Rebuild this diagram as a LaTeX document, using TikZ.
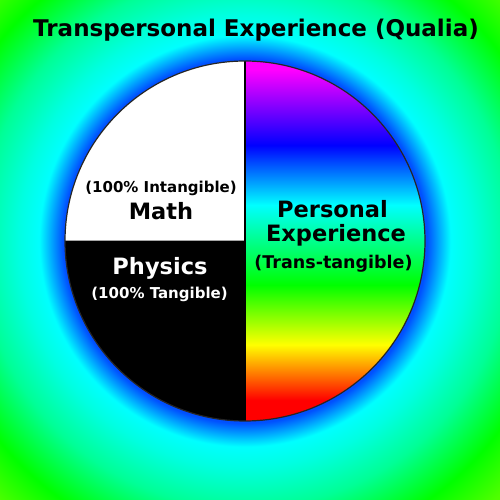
\documentclass[tikz,border=0pt]{standalone}
\usepackage{fontspec}
\setmainfont{DejaVu Sans}
\definecolor{bgblue}{RGB}{0,80,255}
\definecolor{bgcy}{RGB}{0,255,225}
\definecolor{bgmid}{RGB}{0,255,150}
\definecolor{bgchart}{RGB}{80,255,0}
\definecolor{bgfar}{RGB}{128,255,0}
\pgfdeclareradialshading{halo}{\pgfpoint{0bp}{0bp}}{%
  color(0bp)=(bgblue);
  color(12.3bp)=(bgblue);
  color(13.9bp)=(cyan);
  color(15.3bp)=(bgcy);
  color(18.0bp)=(bgmid);
  color(21.4bp)=(green);
  color(24.3bp)=(bgchart);
  color(50bp)=(bgfar)}
\pgfdeclareverticalshading{rainbow}{100bp}{%
  color(0bp)=(red);
  color(27.9bp)=(red);
  color(35.6bp)=(yellow);
  color(43.9bp)=(green);
  color(55bp)=(cyan);
  color(63.3bp)=(blue);
  color(73.75bp)=(magenta);
  color(100bp)=(magenta)}
\tikzset{
  lbl/.style={font=\bfseries\fontsize{#1}{#1}\selectfont, anchor=base, inner sep=0pt},
}
\begin{document}
\begin{tikzpicture}[x=1pt,y=1pt]
\useasboundingbox (0,0) rectangle (500,500);
\coordinate (C) at (245,259);
\begin{scope}
  \clip (0,0) rectangle (500,500);
  \shade[shading=halo] (245-370,259-370) rectangle (245+370,259+370);
\end{scope}
% right half rainbow
\shade[shading=rainbow] (245,439) arc[start angle=90,end angle=-90,radius=180] -- cycle;
% top-left white
\fill[white] (C) -- (245,439) arc[start angle=90,end angle=180,radius=180] -- cycle;
% bottom-left black
\fill[black] (C) -- (65,259) arc[start angle=180,end angle=270,radius=180] -- cycle;
% dividers
\draw[gray!70, line width=1pt] (65,259) -- (C);
\draw[black, line width=1.5pt] (245,439) -- (245,79);
\draw[black!85, line width=1.2pt] (C) circle[radius=180];
% texts
\node[lbl=23] (title) at (256,463) {Transpersonal Experience (Qualia)};
\node[lbl=15] (intang) at (161,307) {(100\% Intangible)};
\node[lbl=22.5] (math) at (161,280) {Math};
\node[lbl=22.5, text=white] (phys) at (160,225) {Physics};
\node[lbl=15, text=white] (tang) at (159.5,201) {(100\% Tangible)};
\node[lbl=22.5] (pers) at (332.5,282) {Personal};
\node[lbl=22.5] (exper) at (336,258) {Experience};
\node[lbl=17.5] (trans) at (333.5,231) {(Trans-tangible)};
\end{tikzpicture}
\end{document}
